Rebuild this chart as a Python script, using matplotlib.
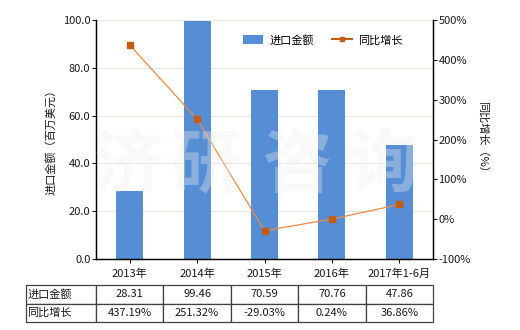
import numpy as np
import matplotlib
matplotlib.use("Agg")
import matplotlib.pyplot as plt
from matplotlib.lines import Line2D
from matplotlib.patches import Patch

plt.rcParams["font.family"] = ["Noto Sans CJK SC", "DejaVu Sans"]
plt.rcParams["axes.unicode_minus"] = False

# ── data ──────────────────────────────────────────────────────────────────────
categories = ["2013年", "2014年", "2015年", "2016年", "2017年1-6月"]
import_amount = [28.31, 99.46, 70.59, 70.76, 47.86]
yoy_growth = [437.19, 251.32, -29.03, 0.24, 36.86]
row_labels = ["进口金额", "同比增长"]

BAR_COLOR = "#558ED5"
LINE_COLOR = "#EE8A45"
MARK_COLOR = "#C55A11"
TXT = "#1A1A1A"
FS = 8

fig = plt.figure(figsize=(5.2, 3.3), dpi=100)
ax = fig.add_axes([96 / 520, 1 - 259 / 330, 337 / 520, 239 / 330])
ax2 = ax.twinx()

x = np.arange(len(categories))
ax.bar(x, import_amount, width=0.4, color=BAR_COLOR, zorder=2)
ax.set_xlim(-0.5, len(categories) - 0.5)
ax.set_ylim(0, 100)
ax.set_yticks(np.arange(0, 101, 20))
ax.set_yticklabels([f"{v:.1f}" for v in np.arange(0, 101, 20)])
ax.yaxis.grid(True, color="#E8E8E0", linewidth=0.8, zorder=0)
ax.set_axisbelow(True)
ax.set_xticks(x)
ax.set_xticklabels(categories)
ax.tick_params(axis="x", length=3, pad=4, labelsize=FS, colors=TXT)
ax.tick_params(axis="y", length=3, pad=1, labelsize=FS, colors=TXT)
ax.set_ylabel("进口金额（百万美元）", fontsize=FS, color=TXT, labelpad=5)

ax2.plot(x, yoy_growth, color=LINE_COLOR, linewidth=0.9, zorder=4,
         marker="s", markersize=4.5, markerfacecolor=MARK_COLOR,
         markeredgecolor=MARK_COLOR)
ax2.set_ylim(-100, 500)
ax2.set_yticks(np.arange(-100, 501, 100))
ax2.set_yticklabels([f"{v}%" for v in np.arange(-100, 501, 100)])
ax2.tick_params(axis="y", length=3, pad=1, labelsize=FS, colors=TXT)
ax2.set_ylabel("同比增长（%）", fontsize=FS, color=TXT, rotation=-90, labelpad=12)

for a in (ax, ax2):
    a.spines["top"].set_visible(False)
    for s in ("left", "right", "bottom"):
        a.spines[s].set_color("#000000")
        a.spines[s].set_linewidth(0.9)

# watermark across the plot area
for cx, ch in zip([128, 205, 297, 383], "济研咨询"):
    fig.text(cx / 520, 1 - 167 / 330, ch, fontsize=50, fontweight="bold",
             color="#EEEEEE", alpha=0.35, ha="center", va="center", zorder=3)

# legend
handles = [Patch(facecolor=BAR_COLOR, edgecolor="none"),
           Line2D([0], [0], color=MARK_COLOR, linewidth=1.5, marker="s",
                  markersize=3, markerfacecolor=MARK_COLOR)]
ax.legend(handles, ["进口金额", "同比增长"], loc="upper right",
          bbox_to_anchor=(0.94, 0.98), ncol=2, frameon=False, fontsize=FS,
          handlelength=1.8, handleheight=0.9, columnspacing=1.6, handletextpad=0.6)

# value table under the axis, first column holds the row names
cell_text = [[row_labels[0]] + [f"{v:.2f}" for v in import_amount],
             [row_labels[1]] + [f"{v:.2f}%" for v in yoy_growth]]
first_w = 70 / 337
col_w = [first_w] + [1 / len(categories)] * len(categories)
tbl = ax.table(cellText=cell_text, colWidths=col_w, cellLoc="center",
               bbox=[-first_w, -63 / 239, 1.0 + first_w, 37 / 239])
tbl.auto_set_font_size(False)
tbl.set_fontsize(FS)
for (r, c), cell in tbl.get_celld().items():
    cell.set_edgecolor("#404040")
    cell.set_linewidth(0.9)
    cell.get_text().set_color(TXT)
    if c == 0:
        cell.get_text().set_ha("left")
        cell.PAD = 0.02

fig.savefig("out.png", dpi=100)
